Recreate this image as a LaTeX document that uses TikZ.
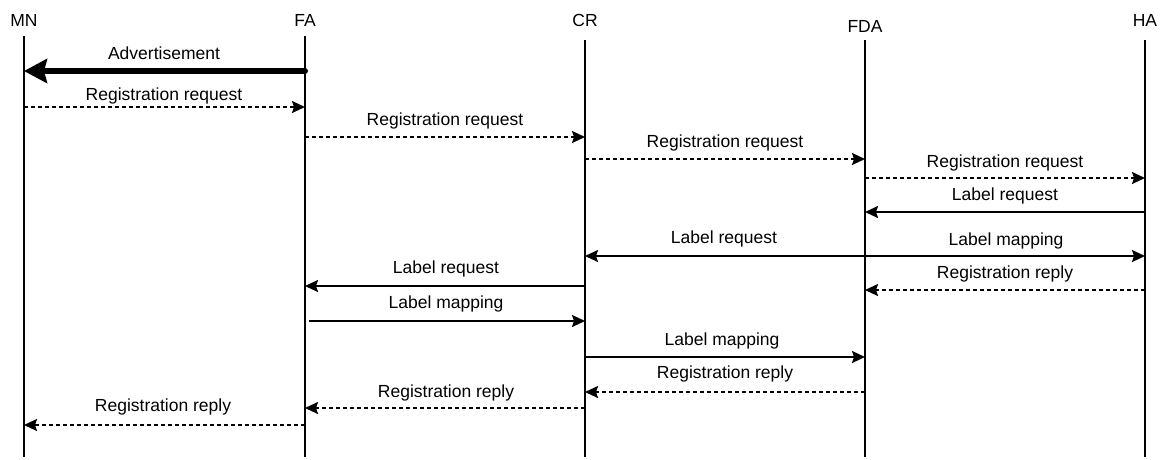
\documentclass[tikz,border=0pt]{standalone}
\usepackage{fontspec}
\setmainfont{Liberation Sans}
\usetikzlibrary{arrows.meta}
\begin{document}
\begin{tikzpicture}[x=1pt,y=-1pt,
  txt/.style={anchor=base,inner sep=0pt,font=\fontsize{17.5}{21}\selectfont},
  life/.style={line width=1.9pt},
  msg/.style={line width=1.9pt,-{Stealth[length=13pt,width=12pt,inset=2pt]}},
  both/.style={line width=1.9pt,{Stealth[length=13pt,width=12pt,inset=2pt]}-{Stealth[length=13pt,width=12pt,inset=2pt]}},
  dmsg/.style={msg,dash pattern=on 4pt off 3pt},
  bigmsg/.style={line width=6pt,line cap=round,-{Stealth[length=23pt,width=24pt,inset=3pt]}}
]
\useasboundingbox (0,0) rectangle (1169,459);

% entities
\node[txt] (mn)  at (24,26)   {MN};
\node[txt] (fa)  at (305,26)  {FA};
\node[txt] (cr)  at (585,26)  {CR};
\node[txt] (fda) at (865,32)  {FDA};
\node[txt] (ha)  at (1145,26) {HA};

% lifelines
\draw[life] (mn  |- 0,36) -- (mn  |- 0,457);
\draw[life] (fa  |- 0,36) -- (fa  |- 0,457);
\draw[life] (cr  |- 0,40) -- (cr  |- 0,457);
\draw[life] (fda |- 0,40) -- (fda |- 0,457);
\draw[life] (ha  |- 0,40) -- (ha  |- 0,457);

% messages
\draw[bigmsg] (fa |- 0,71) -- (mn |- 0,71);
\node[txt] (t1) at (164,59) {Advertisement};

\draw[dmsg] (mn |- 0,107) -- (fa |- 0,107);
\node[txt] (t2) at (164,100) {Registration request};

\draw[dmsg] (fa |- 0,137) -- (cr |- 0,137);
\node[txt] (t3) at (445,125) {Registration request};

\draw[dmsg] (cr |- 0,159) -- (fda |- 0,159);
\node[txt] (t4) at (725,147) {Registration request};

\draw[dmsg] (fda |- 0,178) -- (ha |- 0,178);
\node[txt] (t5) at (1005,167) {Registration request};

\draw[msg] (ha |- 0,212) -- (fda |- 0,212);
\node[txt] (t6) at (1005,200) {Label request};

\draw[both] (cr |- 0,256) -- (ha |- 0,256);
\node[txt] (t7) at (724,243) {Label request};
\node[txt] (t8) at (1006,245) {Label mapping};

\draw[dmsg] (ha |- 0,290) -- (fda |- 0,290);
\node[txt] (t9) at (1005,278) {Registration reply};

\draw[msg] (cr |- 0,286) -- (fa |- 0,286);
\node[txt] (t10) at (446,273) {Label request};

\draw[msg] ([xshift=4pt]fa |- 0,321) -- (cr |- 0,321);
\node[txt] (t11) at (446,308) {Label mapping};

\draw[msg] (cr |- 0,357) -- (fda |- 0,357);
\node[txt] (t12) at (722,345) {Label mapping};

\draw[dmsg] (fda |- 0,392) -- (cr |- 0,392);
\node[txt] (t13) at (725,378) {Registration reply};

\draw[dmsg] (cr |- 0,408) -- (fa |- 0,408);
\node[txt] (t14) at (446,397) {Registration reply};

\draw[dmsg] (fa |- 0,425) -- (mn |- 0,425);
\node[txt] (t15) at (163,411) {Registration reply};
\end{tikzpicture}
\end{document}
